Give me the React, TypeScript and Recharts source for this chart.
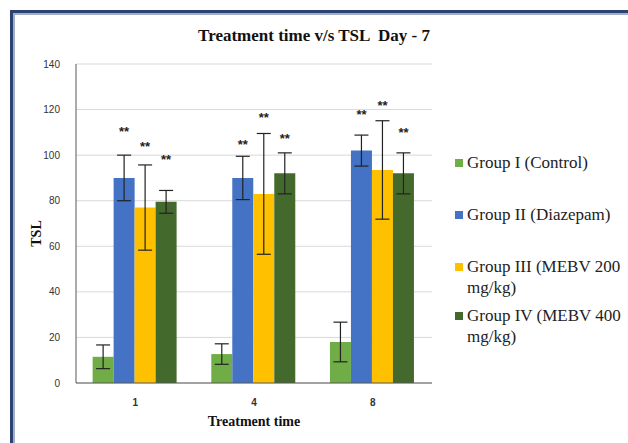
import React from "react"
import { BarChart, Bar, XAxis, YAxis, CartesianGrid, ErrorBar, LabelList, Label } from "recharts"

// treatment time categories
const categories = ["1", "4", "8"]
const yTicks = [0, 20, 40, 60, 80, 100, 120, 140]

const groupNames = ["Group I (Control)", "Group II (Diazepam)", "Group III (MEBV 200 mg/kg)", "Group IV (MEBV 400 mg/kg)"]
const groupColors = ["#70ad47", "#4472c4", "#ffc000", "#44692c"]

// mean TSL and error per group
const g1Values = [11.5, 12.7, 18]
const g1Errors = [5.2, 4.5, 8.7]
const g2Values = [90, 90, 102]
const g2Errors = [10, 9.5, 6.8]
const g3Values = [77, 83, 93.5]
const g3Errors = [18.7, 26.5, 21.6]
const g4Values = [79.5, 92, 92]
const g4Errors = [5, 9, 9]

// height (in TSL units) where the "**" marks sit
const g2Stars = [110.5, 104.8, 117.9]
const g3Stars = [104, 116.8, 121.9]
const g4Stars = [98.2, 107.5, 110]

const groupValues = [g1Values, g2Values, g3Values, g4Values]

const data = categories.map((c, i) => ({
  time: c,
  g1: g1Values[i],
  g1e: g1Errors[i],
  g2: g2Values[i],
  g2e: g2Errors[i],
  g2s: g2Stars[i],
  g3: g3Values[i],
  g3e: g3Errors[i],
  g3s: g3Stars[i],
  g4: g4Values[i],
  g4e: g4Errors[i],
  g4s: g4Stars[i],
}))

const serif = "'Liberation Serif', 'Times New Roman', serif"
const sans = "'Liberation Sans', Arial, sans-serif"

// place the stars using the bar's own pixel scale
const starLabel = (group: number) => (props: any) => {
  const { x, y, width, height, value, index } = props
  const v = groupValues[group][index]
  if (value == null || !v) return null
  const perUnit = height / v
  const base = y + height
  const cy = base - value * perUnit
  return (
    <text x={x + width / 2} y={cy + 5} textAnchor="middle" fontSize={13} fontWeight="bold" fontFamily={sans} fill="#222">
      **
    </text>
  )
}

const legendTops = [152, 204, 256, 305]

export default function App() {
  return (
    <div style={{ position: "absolute", left: 0, top: 0, width: 628, height: 443, background: "#fff", overflow: "hidden" }}>
      {/* frame */}
      <div style={{ position: "absolute", left: 10, top: 10, width: 618, height: 3, background: "#2e4272" }} />
      <div style={{ position: "absolute", left: 13, top: 13, width: 615, height: 2, background: "#a3aec8" }} />
      <div style={{ position: "absolute", left: 10, top: 10, width: 3, height: 433, background: "#2e4272" }} />
      <div style={{ position: "absolute", left: 13, top: 13, width: 2, height: 430, background: "#a3aec8" }} />

      <div
        style={{
          position: "absolute",
          top: 26,
          left: 0,
          width: 628,
          textAlign: "center",
          fontFamily: serif,
          fontWeight: "bold",
          fontSize: 17,
          color: "#111",
          whiteSpace: "pre",
        }}
      >
        {"Treatment time v/s TSL  Day - 7"}
      </div>

      <div style={{ position: "absolute", left: 0, top: 0 }}>
        <BarChart width={628} height={443} data={data} margin={{ top: 64, right: 196, bottom: 20, left: 20 }} barCategoryGap="14%" barGap={0}>
          <CartesianGrid vertical={false} stroke="#d9d9d9" />
          <XAxis
            dataKey="time"
            height={40}
            tickLine={false}
            axisLine={{ stroke: "#595959" }}
            tick={{ fontSize: 10, fill: "#333", fontFamily: sans, fontWeight: "bold" }}
            tickMargin={10}
          >
            <Label
              content={(p: any) => (
                <text
                  x={p.viewBox.x + p.viewBox.width / 2}
                  y={p.viewBox.y + 43}
                  textAnchor="middle"
                  fontFamily={serif}
                  fontWeight="bold"
                  fontSize={14}
                  fill="#111"
                >
                  Treatment time
                </text>
              )}
            />
          </XAxis>
          <YAxis
            width={56}
            domain={[0, 140]}
            ticks={yTicks}
            tickLine={false}
            axisLine={{ stroke: "#595959" }}
            tick={{ fontSize: 10, fill: "#333", fontFamily: sans }}
            tickMargin={10}
          >
            <Label
              content={(p: any) => {
                const cx = p.viewBox.x + 16
                const cy = p.viewBox.y + p.viewBox.height / 2 + 10
                return (
                  <text
                    x={cx}
                    y={cy}
                    transform={`rotate(-90 ${cx} ${cy})`}
                    textAnchor="middle"
                    dominantBaseline="central"
                    fontFamily={serif}
                    fontWeight="bold"
                    fontSize={14}
                    fill="#111"
                  >
                    TSL
                  </text>
                )
              }}
            />
          </YAxis>
          <Bar dataKey="g1" name={groupNames[0]} fill={groupColors[0]} isAnimationActive={false}>
            <ErrorBar dataKey="g1e" width={7} stroke="#222" strokeWidth={1.2} />
          </Bar>
          <Bar dataKey="g2" name={groupNames[1]} fill={groupColors[1]} isAnimationActive={false}>
            <ErrorBar dataKey="g2e" width={7} stroke="#222" strokeWidth={1.2} />
            <LabelList dataKey="g2s" content={starLabel(1)} />
          </Bar>
          <Bar dataKey="g3" name={groupNames[2]} fill={groupColors[2]} isAnimationActive={false}>
            <ErrorBar dataKey="g3e" width={7} stroke="#222" strokeWidth={1.2} />
            <LabelList dataKey="g3s" content={starLabel(2)} />
          </Bar>
          <Bar dataKey="g4" name={groupNames[3]} fill={groupColors[3]} isAnimationActive={false}>
            <ErrorBar dataKey="g4e" width={7} stroke="#222" strokeWidth={1.2} />
            <LabelList dataKey="g4s" content={starLabel(3)} />
          </Bar>
        </BarChart>
      </div>

      {/* legend */}
      {groupNames.map((n, i) => (
        <div key={n} style={{ position: "absolute", left: 455, top: legendTops[i], width: 170, display: "flex", alignItems: "flex-start" }}>
          <div style={{ width: 8, height: 8, background: groupColors[i], marginTop: 7, marginRight: 4, flexShrink: 0 }} />
          <div style={{ fontFamily: serif, fontSize: 17, lineHeight: "21px", color: "#222" }}>{n}</div>
        </div>
      ))}
    </div>
  )
}
